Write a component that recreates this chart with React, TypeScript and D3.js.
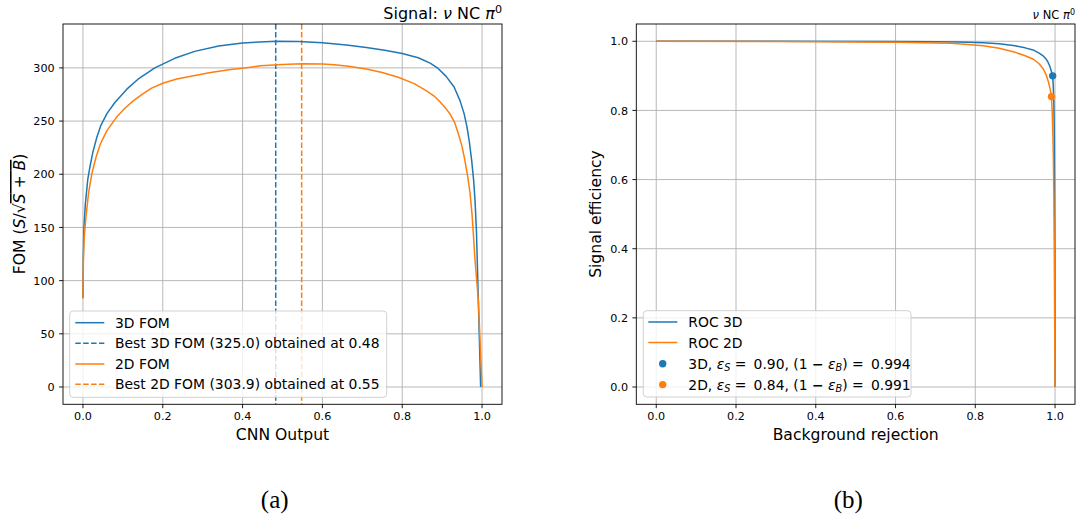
import React, { useEffect } from 'react';
import * as d3 from 'd3';

// ---------------- data ----------------
const FOM_TICKS_X = [0, 0.2, 0.4, 0.6, 0.8, 1.0];
const FOM_TICKS_Y = [0, 50, 100, 150, 200, 250, 300];
const ROC_TICKS_X = [0, 0.2, 0.4, 0.6, 0.8, 1.0];
const ROC_TICKS_Y = [0, 0.2, 0.4, 0.6, 0.8, 1.0];

// [CNN output cut, FOM]
const FOM_3D: [number, number][] = [
  [0, 83.5], [0.001, 125], [0.0025, 150], [0.006, 172], [0.012, 195], [0.018, 208],
  [0.025, 221], [0.035, 235], [0.045, 246], [0.06, 257], [0.08, 267.5], [0.11, 280],
  [0.14, 290], [0.18, 300], [0.23, 309], [0.28, 315.5], [0.34, 320.5], [0.40, 323.5],
  [0.484, 325], [0.54, 324.8], [0.60, 323.6], [0.66, 321.6], [0.71, 319.2], [0.76, 316.3],
  [0.80, 313.6], [0.84, 309.5], [0.87, 304.5], [0.89, 299.5], [0.91, 292], [0.93, 282],
  [0.945, 269], [0.955, 257], [0.962, 245], [0.968, 231], [0.974, 213], [0.979, 194],
  [0.9825, 175], [0.986, 146], [0.988, 119], [0.9965, 0],
];

const FOM_2D: [number, number][] = [
  [0, 83.5], [0.001, 118], [0.003, 140], [0.0075, 160], [0.014, 182], [0.022, 200],
  [0.032, 215], [0.043, 228], [0.06, 241], [0.085, 254], [0.105, 262], [0.126, 269],
  [0.15, 275.5], [0.172, 281], [0.2, 285.5], [0.235, 289.5], [0.29, 293.5], [0.32, 295.6],
  [0.37, 298.5], [0.41, 300.2], [0.445, 301.9], [0.50, 303.2], [0.548, 303.9], [0.60, 303.6],
  [0.63, 302.9], [0.67, 301.2], [0.71, 299], [0.75, 295.6], [0.79, 291.2], [0.83, 285.2],
  [0.861, 278.4], [0.88, 273.5], [0.895, 268], [0.91, 261.5], [0.92, 256.6], [0.932, 248],
  [0.9406, 238], [0.95, 226], [0.957, 213], [0.964, 198], [0.97, 182], [0.975, 162],
  [0.978, 145], [0.9825, 119], [0.9907, 81.6], [1.0, 0],
];

const BEST_CUTS = [0.483, 0.548];
const BEST_FOMS = [325.0, 303.9];

// [background rejection, signal efficiency]
const ROC_3D: [number, number][] = [
  [0, 1], [0.3, 1], [0.6, 0.9995], [0.7, 0.999], [0.76, 0.998], [0.82, 0.996],
  [0.86, 0.993], [0.9, 0.987], [0.925, 0.981], [0.945, 0.975], [0.96, 0.966],
  [0.971, 0.957], [0.978, 0.948], [0.983, 0.938], [0.987, 0.927], [0.9905, 0.914],
  [0.994, 0.9], [0.9955, 0.87], [0.997, 0.82], [0.998, 0.75], [0.9988, 0.6],
  [0.9995, 0.4], [1.0, 0],
];

const ROC_2D: [number, number][] = [
  [0, 1], [0.3, 0.9995], [0.5, 0.998], [0.6, 0.997], [0.7, 0.995], [0.74, 0.994],
  [0.82, 0.987], [0.86, 0.98], [0.9, 0.968], [0.925, 0.958], [0.946, 0.948],
  [0.96, 0.935], [0.971, 0.919], [0.978, 0.902], [0.984, 0.88], [0.988, 0.86],
  [0.991, 0.84], [0.993, 0.79], [0.9945, 0.73], [0.9957, 0.67], [0.997, 0.55],
  [0.998, 0.4], [0.999, 0.2], [1.0, 0],
];

const WP_EFF = [0.90, 0.84];
const WP_REJ = [0.994, 0.991];
const SERIES = ['3D', '2D'];

// ---------------- style ----------------
const BLUE = '#1f77b4';
const ORANGE = '#ff7f0e';
const COLORS = [BLUE, ORANGE];
const FONT = 'DejaVu Sans';
const GRID = '#b0b0b0';

const fmt1 = d3.format('.1f');

function Grid({ x, y, xticks, yticks }: any) {
  const [x0, x1] = x.range();
  const [y1, y0] = y.range();
  return (
    <g>
      {xticks.map((t: number) => (
        <line key={'gx' + t} x1={x(t)} x2={x(t)} y1={y0} y2={y1} stroke={GRID} strokeWidth={0.9} />
      ))}
      {yticks.map((t: number) => (
        <line key={'gy' + t} x1={x0} x2={x1} y1={y(t)} y2={y(t)} stroke={GRID} strokeWidth={0.9} />
      ))}
    </g>
  );
}

function Frame({ x, y, xticks, yticks, yfmt }: any) {
  const [x0, x1] = x.range();
  const [y1, y0] = y.range();
  return (
    <g>
      <rect x={x0} y={y0} width={x1 - x0} height={y1 - y0} fill="none" stroke="#000" strokeWidth={0.9} />
      {xticks.map((t: number) => (
        <g key={'tx' + t}>
          <line x1={x(t)} x2={x(t)} y1={y1} y2={y1 + 3.9} stroke="#000" strokeWidth={0.9} />
          <text x={x(t)} y={y1 + 15.7} textAnchor="middle" fontFamily={FONT} fontSize={11.2} fill="#000">
            {fmt1(t)}
          </text>
        </g>
      ))}
      {yticks.map((t: number) => (
        <g key={'ty' + t}>
          <line x1={x0 - 3.9} x2={x0} y1={y(t)} y2={y(t)} stroke="#000" strokeWidth={0.9} />
          <text x={x0 - 8.3} y={y(t) + 4.1} textAnchor="end" fontFamily={FONT} fontSize={11.2} fill="#000">
            {yfmt(t)}
          </text>
        </g>
      ))}
    </g>
  );
}

export default function App() {
  useEffect(() => {
    document.body.style.margin = '0';
  }, []);

  // left panel scales
  const xL = d3.scaleLinear().domain([-0.05, 1.05]).range([63, 502]);
  const yL = d3.scaleLinear().domain([-16.25, 341.25]).range([404.3, 24]);
  // right panel scales
  const xR = d3.scaleLinear().domain([-0.05, 1.05]).range([636.3, 1075]);
  const yR = d3.scaleLinear().domain([-0.05, 1.05]).range([404.3, 24]);

  const lineL = d3.line<[number, number]>().x((d) => xL(d[0])).y((d) => yL(d[1]));
  const lineR = d3.line<[number, number]>().x((d) => xR(d[0])).y((d) => yR(d[1]));

  const fomSeries = [FOM_3D, FOM_2D];
  const rocSeries = [ROC_3D, ROC_2D];

  const legL = [
    { label: `${SERIES[0]} FOM`, color: BLUE, dash: false },
    { label: `Best ${SERIES[0]} FOM (${fmt1(BEST_FOMS[0])}) obtained at ${BEST_CUTS[0].toFixed(2)}`, color: BLUE, dash: true },
    { label: `${SERIES[1]} FOM`, color: ORANGE, dash: false },
    { label: `Best ${SERIES[1]} FOM (${fmt1(BEST_FOMS[1])}) obtained at ${BEST_CUTS[1].toFixed(2)}`, color: ORANGE, dash: true },
  ];
  const legLY = [322.7, 343.3, 364, 384.3];
  const legRY = [322, 342.5, 363.8, 384.6];

  return (
    <svg width={1080} height={519} style={{ position: 'absolute', left: 0, top: 0, background: '#fff' }}>
      <rect x={0} y={0} width={1080} height={519} fill="#fff" />

      {/* ---------------- left panel ---------------- */}
      <Grid x={xL} y={yL} xticks={FOM_TICKS_X} yticks={FOM_TICKS_Y} />
      {BEST_CUTS.map((c, i) => (
        <line key={'best' + i} x1={xL(c)} x2={xL(c)} y1={24} y2={404.3} stroke={COLORS[i]} strokeWidth={1.5} strokeDasharray="5.5,2.4" />
      ))}
      {fomSeries.map((s, i) => (
        <path key={'fom' + i} d={lineL(s) || ''} fill="none" stroke={COLORS[i]} strokeWidth={1.5} strokeLinejoin="round" />
      ))}
      <Frame x={xL} y={yL} xticks={FOM_TICKS_X} yticks={FOM_TICKS_Y} yfmt={(t: number) => String(t)} />

      {/* legend left */}
      <rect x={69.7} y={311} width={317} height={86.3} rx={3.5} fill="#fff" fillOpacity={0.8} stroke="#cccccc" strokeWidth={0.9} />
      {legL.map((e, i) => (
        <g key={'ll' + i}>
          <line x1={75.3} x2={104.3} y1={legLY[i]} y2={legLY[i]} stroke={e.color} strokeWidth={1.5} strokeDasharray={e.dash ? '5.5,2.4' : undefined} />
          <text x={115} y={legLY[i] + 5} fontFamily={FONT} fontSize={13.9} fill="#000">{e.label}</text>
        </g>
      ))}

      {/* title left */}
      <text x={502} y={19.3} textAnchor="end" fontFamily={FONT} fontSize={16} fill="#000">
        Signal: <tspan fontStyle="italic">ν</tspan> NC <tspan fontStyle="italic">π</tspan>
        <tspan fontSize={11.2} dy={-6.5}>0</tspan>
      </text>

      {/* axis labels left */}
      <text x={282.5} y={439.7} textAnchor="middle" fontFamily={FONT} fontSize={15.6} fill="#000">CNN Output</text>
      <text transform="translate(25,214) rotate(-90)" textAnchor="middle" fontFamily={FONT} fontSize={15.6} fill="#000">
        FOM (<tspan fontStyle="italic">S</tspan>/√<tspan style={{ textDecoration: 'overline' }}><tspan fontStyle="italic">S</tspan> + <tspan fontStyle="italic">B</tspan></tspan>)
      </text>

      {/* ---------------- right panel ---------------- */}
      <Grid x={xR} y={yR} xticks={ROC_TICKS_X} yticks={ROC_TICKS_Y} />
      {rocSeries.map((s, i) => (
        <path key={'roc' + i} d={lineR(s) || ''} fill="none" stroke={COLORS[i]} strokeWidth={1.5} strokeLinejoin="round" />
      ))}
      {WP_EFF.map((e, i) => (
        <circle key={'wp' + i} cx={xR(WP_REJ[i])} cy={yR(e)} r={3.7} fill={COLORS[i]} />
      ))}
      <Frame x={xR} y={yR} xticks={ROC_TICKS_X} yticks={ROC_TICKS_Y} yfmt={(t: number) => fmt1(t)} />

      {/* legend right */}
      <rect x={643.3} y={310.7} width={267.7} height={86.3} rx={3.5} fill="#fff" fillOpacity={0.8} stroke="#cccccc" strokeWidth={0.9} />
      {SERIES.map((s, i) => (
        <g key={'lr' + i}>
          <line x1={648.3} x2={677.3} y1={legRY[i]} y2={legRY[i]} stroke={COLORS[i]} strokeWidth={1.5} />
          <text x={688.3} y={legRY[i] + 5} fontFamily={FONT} fontSize={13.9} fill="#000">ROC {s}</text>
        </g>
      ))}
      {SERIES.map((s, i) => (
        <g key={'lp' + i}>
          <circle cx={662.7} cy={legRY[i + 2]} r={3.7} fill={COLORS[i]} />
          <text x={688.3} y={legRY[i + 2] + 5} fontFamily={FONT} fontSize={13.9} fill="#000" style={{ whiteSpace: 'pre' }}>
            <tspan>{s + ', '}</tspan>
            <tspan fontStyle="italic">ε</tspan>
            <tspan fontStyle="italic" fontSize={9.7} dy={2.6}>S</tspan>
            <tspan dy={-2.6}>{' = ' + '\u2009' + WP_EFF[i].toFixed(2) + ', (1 '}</tspan>
            <tspan fontWeight="bold">−</tspan>
            <tspan>{' '}</tspan>
            <tspan fontStyle="italic">ε</tspan>
            <tspan fontStyle="italic" fontSize={9.7} dy={2.6}>B</tspan>
            <tspan dy={-2.6}>{') = ' + '\u2009' + WP_REJ[i].toFixed(3)}</tspan>
          </text>
        </g>
      ))}

      {/* title right */}
      <text x={1075} y={19.3} textAnchor="end" fontFamily={FONT} fontSize={11.5} fill="#000">
        <tspan fontStyle="italic">ν</tspan> NC <tspan fontStyle="italic">π</tspan>
        <tspan fontSize={8} dy={-4.7}>0</tspan>
      </text>

      {/* axis labels right */}
      <text x={855.7} y={439.7} textAnchor="middle" fontFamily={FONT} fontSize={15.6} fill="#000">Background rejection</text>
      <text transform="translate(601,214) rotate(-90)" textAnchor="middle" fontFamily={FONT} fontSize={15.6} fill="#000">Signal efficiency</text>

      {/* captions */}
      <text x={274.7} y={508} textAnchor="middle" fontFamily="Liberation Serif" fontSize={25} fill="#000">(a)</text>
      <text x={848.3} y={508} textAnchor="middle" fontFamily="Liberation Serif" fontSize={25} fill="#000">(b)</text>
    </svg>
  );
}
